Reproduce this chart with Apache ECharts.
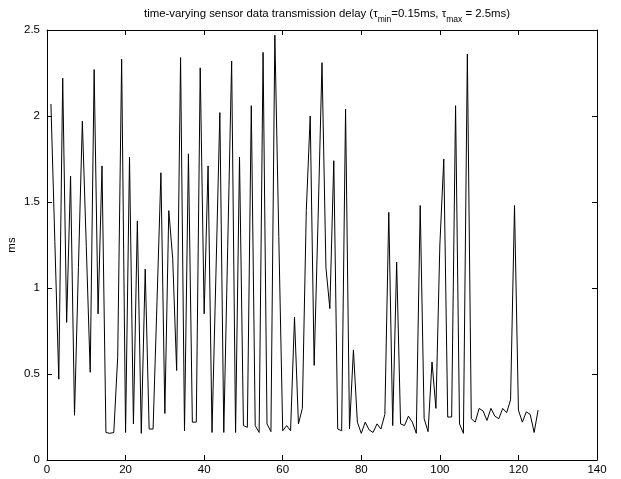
<!DOCTYPE html>
<html>
<head>
<meta charset="utf-8">
<script src="https://cdn.jsdelivr.net/npm/echarts@6/dist/echarts.min.js"></script>
<style>
  html, body { margin: 0; padding: 0; background: #fff; }
  #chart { width: 621px; height: 479px; }
</style>
</head>
<body>
<div id="chart"></div>
<script>
// transmission delay per sample (ms)
var delay = [
    2.07, 1.27, 0.47, 2.22, 0.80, 1.65, 0.26, 1.12, 1.97, 1.24,
    0.51, 2.27, 0.85, 1.71, 0.16, 0.155, 0.16, 0.60, 2.33, 0.16,
    1.76, 0.21, 1.39, 0.155, 1.11, 0.18, 0.18, 0.92, 1.67, 0.27,
    1.45, 1.17, 0.52, 2.34, 0.17, 1.78, 0.22, 0.22, 2.28, 0.85,
    1.71, 0.16, 1.08, 2.02, 0.16, 1.24, 2.32, 0.16, 1.76, 0.20,
    0.19, 2.06, 0.20, 0.16, 2.37, 0.21, 0.165, 2.47, 1.30, 0.17,
    0.20, 0.17, 0.83, 0.21, 0.30, 1.45, 2.00, 0.55, 1.40, 2.31,
    1.12, 0.88, 1.74, 0.18, 0.17, 2.04, 0.18, 0.64, 0.22, 0.155,
    0.22, 0.175, 0.16, 0.21, 0.18, 0.265, 1.44, 0.20, 1.15, 0.21,
    0.20, 0.255, 0.22, 0.155, 1.48, 0.24, 0.165, 0.57, 0.30, 1.25,
    1.75, 0.25, 0.25, 2.06, 0.21, 0.155, 2.36, 0.24, 0.22, 0.30,
    0.285, 0.23, 0.30, 0.255, 0.24, 0.30, 0.275, 0.35, 1.48, 0.29,
    0.22, 0.28, 0.265, 0.16, 0.29
];

var xTicks = [0, 20, 40, 60, 80, 100, 120, 140];
var yTicks = [0, 0.5, 1, 1.5, 2, 2.5];

var points = [];
delay.forEach(function (v, i) {
    points.push([i + 1, v]);
});

var font = 'Liberation Sans, Arial, sans-serif';

var axisLine = {show: true, onZero: false, lineStyle: {color: '#000', width: 1}};
var axisTick = {show: true, inside: true, length: 5, lineStyle: {color: '#000', width: 1}};

var myChart = echarts.init(document.getElementById('chart'));

var option = {
    animation: false,
    backgroundColor: '#fff',
    title: {
        text: '{n|time-varying sensor data transmission delay (τ}{s|min}{n|=0.15ms, τ}{s|max}{n| = 2.5ms)}',
        left: 322,
        top: 2,
        textAlign: 'center',
        textStyle: {
            fontWeight: 'normal',
            rich: {
                n: {fontFamily: font, fontSize: 11.4, fontWeight: 'normal', color: '#000', lineHeight: 16, verticalAlign: 'top', padding: [1, 0, 0, 0]},
                s: {fontFamily: font, fontSize: 8.5, fontWeight: 'normal', color: '#000', lineHeight: 16, verticalAlign: 'bottom', padding: [0, 0, -1, 0]}
            }
        }
    },
    grid: {left: 47, right: 24, top: 30, bottom: 19, containLabel: false, outerBoundsMode: 'none'},
    xAxis: [
        {
            type: 'value', min: 0, max: 140, interval: 20,
            axisLine: axisLine, axisTick: axisTick, splitLine: {show: false},
            axisLabel: {
                color: '#000', fontFamily: font, fontSize: 11.5, margin: 4,
                formatter: function (v) { return xTicks.indexOf(v) >= 0 ? String(v) : ''; }
            }
        },
        {
            type: 'value', position: 'top', min: 0, max: 140, interval: 20,
            axisLine: axisLine, axisTick: axisTick, splitLine: {show: false},
            axisLabel: {show: false}
        }
    ],
    yAxis: [
        {
            type: 'value', min: 0, max: 2.5, interval: 0.5,
            name: 'ms', nameLocation: 'middle', nameGap: 29, nameRotate: 90,
            nameMoveOverlap: false,
            nameTextStyle: {color: '#000', fontFamily: font, fontSize: 11.5},
            axisLine: axisLine, axisTick: axisTick, splitLine: {show: false},
            axisLabel: {
                color: '#000', fontFamily: font, fontSize: 11.5, margin: 7,
                formatter: function (v) { return yTicks.indexOf(v) >= 0 ? String(v) : ''; }
            }
        },
        {
            type: 'value', position: 'right', min: 0, max: 2.5, interval: 0.5,
            axisLine: axisLine, axisTick: axisTick, splitLine: {show: false},
            axisLabel: {show: false}
        }
    ],
    series: [
        {
            name: 'delay',
            type: 'line',
            data: points,
            showSymbol: false,
            symbol: 'none',
            lineStyle: {color: '#000', width: 1},
            silent: true
        }
    ]
};

myChart.setOption(option);
</script>
</body>
</html>
